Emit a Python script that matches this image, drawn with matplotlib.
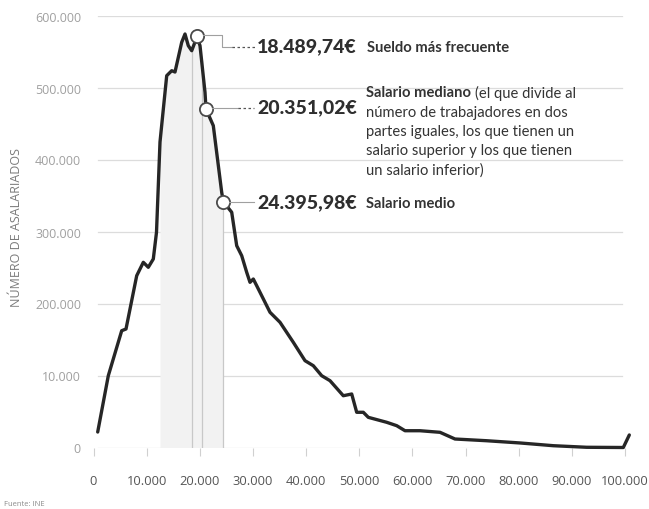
import numpy as np
import matplotlib
matplotlib.use("Agg")
import matplotlib.pyplot as plt
from matplotlib.lines import Line2D

# ---------------- data ----------------
salario = [790, 2785, 5306, 6115, 8128, 9370, 10311, 11252, 11853, 12512, 13773,
           14713, 15334, 16595, 17216, 17837, 18476, 19097, 19417, 20038, 20979,
           21167, 22540, 24121, 24422, 26003, 26943, 27884, 28825, 29446, 30067,
           30706, 33208, 35090, 37593, 39794, 41356, 42936, 44498, 47000, 48580,
           49520, 50763, 51704, 55166, 57047, 58609, 61431, 65194, 68016, 73980,
           80246, 86512, 92796, 99683, 100812]
asalariados = [21500, 99700, 162200, 164600, 238600, 257200, 250300, 261800, 298900,
               424300, 516400, 523300, 521500, 562800, 574300, 558100, 551100, 563200,
               571900, 558100, 493300, 470100, 447000, 354400, 341400, 326700, 280300,
               266400, 243300, 229400, 234000, 224700, 187800, 173900, 146100, 120600,
               113600, 99700, 92800, 71900, 74300, 48900, 48900, 41900, 35000, 30300,
               23300, 23300, 21100, 11800, 9400, 6300, 2500, 300, 0, 17400]

# reference values and where their markers sit on the drawn curve
ref_valores = [18489.74, 20351.02, 24395.98]
marker_x = [19417, 21167, 24422]
marker_y = [571900, 470100, 341400]
ref_labels = ["18.489,74€", "20.351,02€", "24.395,98€"]

x_ticks = [0, 10000, 20000, 30000, 40000, 50000, 60000, 70000, 80000, 90000, 100000]
x_ticklabels = ["0", "10.000", "20.000", "30.000", "40.000", "50.000", "60.000",
                "70.000", "80.000", "90.000", "100.000"]
y_ticks = [0, 100000, 200000, 300000, 400000, 500000, 600000]
y_ticklabels = ["0", "10.000", "200.000", "300.000", "400.000", "500.000", "600.000"]

# ---------------- figure ----------------
W, H = 649, 510
fig = plt.figure(figsize=(W / 100, H / 100), dpi=100)
fig.patch.set_facecolor("white")

def fp(x, y):
    """pixel (from top-left) -> figure fraction"""
    return x / W, 1 - y / H

ax = fig.add_axes([93.5 / W, (H - 448.5) / H, 531.5 / W, 432 / H])
ax.set_xlim(0, 100000)
ax.set_ylim(0, 600000)
for s in ax.spines.values():
    s.set_visible(False)

# grid
for yt in y_ticks:
    ax.axhline(yt, color="#dcdcdc", lw=0.9, zorder=0, xmin=0.008, xmax=0.995)

xs = np.array(salario, dtype=float)
ys = np.array(asalariados, dtype=float)

# light shading around the peak
mask = (xs >= 12000) & (xs <= 24500)
ax.fill_between(xs[mask], 0, ys[mask], color="#f2f2f2", zorder=1, lw=0)

# vertical reference lines
for v in ref_valores:
    ax.plot([v, v], [0, np.interp(v, xs, ys)], color="#c8c8c8", lw=0.9, zorder=2)

ax.plot(xs, ys, color="#262626", lw=2.4, zorder=3, solid_joinstyle="round",
        solid_capstyle="round", clip_on=False)

ax.plot(marker_x, marker_y, "o", ms=9.5, mfc="white", mec="#4a4a4a", mew=1.3,
        zorder=4, clip_on=False)

# ticks
ax.set_xticks(x_ticks)
ax.set_xticklabels(x_ticklabels, fontfamily="Open Sans", fontsize=9.3, color="#555555")
ax.tick_params(axis="x", length=6, width=0.8, color="#d0d0d0", pad=13)
ax.set_yticks(y_ticks)
ax.set_yticklabels(y_ticklabels, fontfamily="Open Sans", fontsize=9, color="#a0a0a0")
ax.tick_params(axis="y", length=0, pad=9)

fig.text(*fp(17, 228), "NÚMERO DE ASALARIADOS", rotation=90, ha="center", va="center",
         fontfamily="Open Sans", fontsize=9, color="#7a7a7a")
fig.text(*fp(4, 505), "Fuente: INE", ha="left", va="center",
         fontfamily="Open Sans", fontsize=5.5, color="#8a8a8a")

# connectors
def fline(pts, **kw):
    xs_, ys_ = zip(*[fp(x, y) for x, y in pts])
    fig.add_artist(Line2D(xs_, ys_, transform=fig.transFigure, **kw))

gray = "#a0a0a0"
fline([(203, 36), (222, 36), (222, 48), (232, 48)], color=gray, lw=0.8)
fline([(232, 48), (255, 48)], color="#555555", lw=0.9, ls=(0, (2, 2)))
fline([(212, 109), (238, 109)], color=gray, lw=0.8)
fline([(238, 109), (254, 109)], color="#555555", lw=0.9, ls=(0, (2, 2)))
fline([(229, 203), (254, 203)], color=gray, lw=0.8)

num_kw = dict(fontfamily="Lato", fontweight=900, fontsize=14, color="#2e2e2e",
              ha="left", va="center")
txt_kw = dict(fontfamily="Lato", fontsize=10.6, color="#333333", ha="left", va="center")

fig.text(*fp(257, 47), ref_labels[0], **num_kw)
fig.text(*fp(257, 108), ref_labels[1], **num_kw)
fig.text(*fp(257, 203), ref_labels[2], **num_kw)

fig.text(*fp(367, 48), "Sueldo más frecuente", fontweight="bold", **txt_kw)
t = fig.text(*fp(366, 93), "Salario mediano", fontweight="bold", **txt_kw)
fig.canvas.draw()
bb = t.get_window_extent()
fig.text(bb.x1 / W + 4 / W, 1 - 93 / H, "(el que divide al", **txt_kw)
lines = ["número de trabajadores en dos",
         "partes iguales, los que tienen un",
         "salario superior y los que tienen",
         "un salario inferior)"]
for i, ln in enumerate(lines):
    fig.text(*fp(366, 113 + i * 19.2), ln, **txt_kw)
fig.text(*fp(366, 204), "Salario medio", fontweight="bold", **txt_kw)

fig.savefig("out.png", dpi=100, facecolor="white")
